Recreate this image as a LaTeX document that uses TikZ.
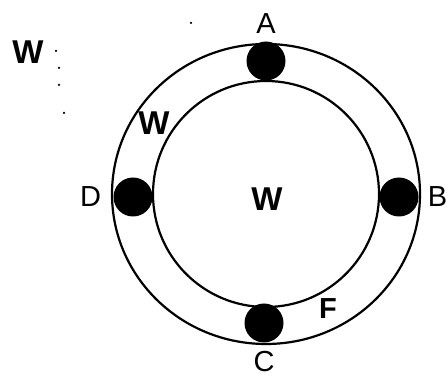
\documentclass[tikz,border=0pt]{standalone}
\usepackage{fontspec}
\setmainfont{Liberation Sans}
\usepackage{tikz}
\usetikzlibrary{positioning}

\begin{document}
\begin{tikzpicture}[x=1pt, y=-1pt, font=\fontsize{29}{29}\selectfont,
  ring/.style={draw,line width=2.2pt},
  ball/.style={circle,fill=black,minimum size=39pt,inner sep=0pt},
  lbl/.style={inner sep=1pt},
  wlbl/.style={inner sep=1pt,font=\fontsize{33}{33}\selectfont\bfseries},
  speck/.style={circle,fill=black,inner sep=0pt,minimum size=2.5pt}]
  \useasboundingbox (0,0) rectangle (448,377);
  \coordinate (ctr) at (266,194);
  % the two rings
  \draw[ring] (ctr) ellipse [x radius=154, y radius=150];
  \draw[ring] (ctr) circle [radius=113];
  % balls between the rings
  \node[ball] (a) at (266,61) {};
  \node[ball] (b) at (399,197) {};
  \node[ball] (c) at (264,323) {};
  \node[ball] (d) at (133,197) {};
  \node[lbl,above=7pt of a] (la) {A};
  \node[lbl,right=8pt of b] (lb) {B};
  \node[lbl,below=7pt of c] (lc) {C};
  \node[lbl,left=11pt of d] (ld) {D};
  \node[lbl,font=\fontsize{29}{29}\selectfont\bfseries] (lf) at (328,309) {F};
  \node[wlbl] (wring) at (154,123) {W};
  \node[wlbl] (wmid) at (267,199) {W};
  \node[wlbl] (wout) at (28,52) {W};
  % stray specks
  \node[speck] (s1) at (56,51) {};
  \node[speck] (s2) at (59,68) {};
  \node[speck] (s3) at (59,85) {};
  \node[speck] (s4) at (64,113) {};
  \node[speck] (s5) at (191,23) {};
\end{tikzpicture}
\end{document}
